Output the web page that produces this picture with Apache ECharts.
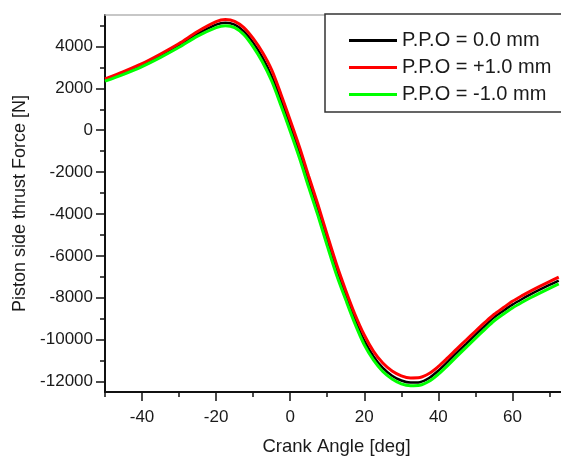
<!DOCTYPE html>
<html>
<head>
<meta charset="utf-8">
<script src="https://cdn.jsdelivr.net/npm/echarts@6/dist/echarts.min.js"></script>
<style>html,body{margin:0;padding:0;background:#fff}#c{width:561px;height:457px}</style>
</head>
<body>
<div id="c"></div>
<script>
const angles = [-50,-45,-40,-35,-30,-25,-20,-17.5,-15,-12.5,-10,-7.5,-5,-2.5,0,2.5,5,7.5,10,12.5,15,17.5,20,22.5,25,27.5,30,32.5,35,37.5,40,42.5,45,47.5,50,52.5,55,57.5,60,62.5,65,67.5,70,72.5];
const ppo0 = [2400,2740,3110,3560,4050,4600,5040,5130,5040,4720,4180,3480,2580,1440,210,-1080,-2480,-3830,-5280,-6680,-7900,-9050,-10050,-10800,-11350,-11720,-11950,-12050,-12030,-11830,-11480,-11060,-10620,-10200,-9770,-9350,-8950,-8630,-8330,-8070,-7830,-7605,-7390,-7180];
const ppoPlus = [2450,2800,3180,3640,4140,4710,5180,5280,5200,4900,4380,3720,2880,1720,480,-800,-2200,-3560,-5000,-6400,-7650,-8800,-9780,-10560,-11120,-11500,-11730,-11830,-11810,-11620,-11280,-10870,-10440,-10020,-9600,-9190,-8800,-8480,-8170,-7910,-7670,-7445,-7230,-7020];
const ppoMinus = [2340,2670,3040,3480,3960,4490,4900,4990,4900,4560,3980,3260,2350,1180,-50,-1330,-2730,-4080,-5520,-6900,-8100,-9250,-10250,-10980,-11520,-11880,-12110,-12200,-12180,-11990,-11650,-11240,-10800,-10370,-9940,-9520,-9110,-8790,-8490,-8230,-7990,-7765,-7550,-7340];
const seriesNames = ['P.P.O = 0.0 mm','P.P.O = +1.0 mm','P.P.O = -1.0 mm'];
const xLabels = [-40,-20,0,20,40,60];
const xMinor = [-50,-30,-10,10,30,50,70];
const yLabels = [-12000,-10000,-8000,-6000,-4000,-2000,0,2000,4000];
const yMinor = [-11000,-9000,-7000,-5000,-3000,-1000,1000,3000,5000];

const FONT = "'Liberation Sans', Arial, sans-serif";
const TXT = '#1a1a1a';
const pair = arr => angles.map((a,i)=>[a,arr[i]]);
const plain = v => String(v);

const chart = echarts.init(document.getElementById('c'), null, {renderer:'canvas'});
const xCommon = {type:'value', min:-50, max:75, splitLine:{show:false}};
const yCommon = {type:'value', min:-12500, max:5500, splitLine:{show:false}};
chart.setOption({
  animation:false,
  backgroundColor:'#fff',
  grid:{left:105, top:15, bottom:65, right:-7, containLabel:false, outerBoundsMode:'none'},
  graphic:[{
    type:'rect', z:50, silent:true,
    shape:{x:325, y:14, width:300, height:98},
    style:{fill:'#fff', stroke:'#333', lineWidth:1.5}
  }],
  legend:{
    left:349, top:15, orient:'vertical', z:60,
    data:seriesNames,
    icon:'rect', itemWidth:48, itemHeight:3, itemGap:0,
    padding:[12,0,0,0],
    textStyle:{fontFamily:FONT, fontSize:20, color:TXT, lineHeight:27}
  },
  xAxis:[
    Object.assign({}, xCommon, {
      position:'bottom',
      name:'Crank Angle [deg]', nameLocation:'middle', nameGap:45,
      nameTextStyle:{fontFamily:FONT, fontSize:18.5, color:TXT},
      axisLine:{show:true, onZero:false, lineStyle:{color:'#111', width:2}},
      axisTick:{show:true, length:9, lineStyle:{color:'#111', width:1.5}, customValues:xLabels},
      axisLabel:{show:true, margin:17, fontFamily:FONT, fontSize:17, color:TXT, customValues:xLabels, formatter:plain}
    }),
    Object.assign({}, xCommon, {
      position:'bottom',
      axisLine:{show:false, onZero:false},
      axisTick:{show:true, length:5, lineStyle:{color:'#111', width:1.5}, customValues:xMinor},
      axisLabel:{show:false}
    }),
    Object.assign({}, xCommon, {
      position:'top',
      axisLine:{show:true, onZero:false, lineStyle:{color:'#b5b5b5', width:1.5}},
      axisTick:{show:false}, axisLabel:{show:false}
    })
  ],
  yAxis:[
    Object.assign({}, yCommon, {
      position:'left',
      name:'Piston side thrust Force [N]', nameLocation:'middle', nameGap:68,
      nameTextStyle:{fontFamily:FONT, fontSize:18, color:TXT},
      axisLine:{show:true, onZero:false, lineStyle:{color:'#111', width:2}},
      axisTick:{show:true, length:9, lineStyle:{color:'#111', width:1.5}, customValues:yLabels},
      axisLabel:{show:true, margin:12, fontFamily:FONT, fontSize:17, color:TXT, customValues:yLabels, formatter:plain}
    }),
    Object.assign({}, yCommon, {
      position:'left',
      axisLine:{show:false, onZero:false},
      axisTick:{show:true, length:5, lineStyle:{color:'#111', width:1.5}, customValues:yMinor},
      axisLabel:{show:false}
    })
  ],
  series:[
    {name:seriesNames[0], type:'line', data:pair(ppo0), smooth:0.3, showSymbol:false, color:'#000000', lineStyle:{width:2.5}},
    {name:seriesNames[1], type:'line', data:pair(ppoPlus), smooth:0.3, showSymbol:false, color:'#ff0000', lineStyle:{width:3}},
    {name:seriesNames[2], type:'line', data:pair(ppoMinus), smooth:0.3, showSymbol:false, color:'#00ff00', lineStyle:{width:3}}
  ]
});
</script>
</body>
</html>
